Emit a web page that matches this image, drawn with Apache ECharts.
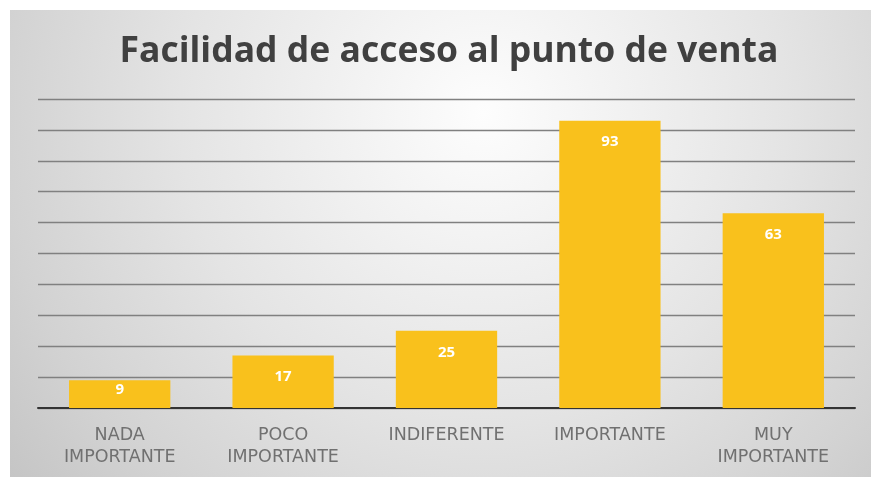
<!DOCTYPE html>
<html>
<head>
<meta charset="utf-8">
<title>Facilidad de acceso al punto de venta</title>
<script src="https://cdn.jsdelivr.net/npm/echarts@6/dist/echarts.min.js"></script>
<style>
  html, body { margin: 0; padding: 0; background: #ffffff; }
  #chart { width: 871px; height: 477px; }
</style>
</head>
<body>
<div id="chart"></div>
<script>
// Survey answers: how important is easy access to the point of sale
const categories = ['NADA\nIMPORTANTE', 'POCO\nIMPORTANTE', 'INDIFERENTE', 'IMPORTANTE', 'MUY\nIMPORTANTE'];
const counts = [9, 17, 25, 93, 63];
const yTicks = [0, 10, 20, 30, 40, 50, 60, 70, 80, 90, 100];

const chart = echarts.init(document.getElementById('chart'), null, { renderer: 'canvas' });

// short bars keep their value label close to the top edge
const barData = counts.map(v => ({
  value: v,
  label: v < 12 ? { distance: 2 } : {}
}));

chart.setOption({
  animation: false,
  backgroundColor: '#ffffff',
  graphic: [{
    type: 'rect',
    z: -10,
    silent: true,
    shape: { x: 10, y: 10, width: 861, height: 467 },
    style: {
      fill: {
        type: 'radial',
        x: 0.55, y: 0.22, r: 1.3,
        colorStops: [
          { offset: 0, color: '#fdfdfd' },
          { offset: 0.5, color: '#e4e4e4' },
          { offset: 0.8, color: '#d2d2d2' },
          { offset: 1, color: '#c4c4c4' }
        ]
      }
    }
  }],
  title: {
    text: 'Facilidad de acceso al punto de venta',
    left: 444,
    textAlign: 'center',
    top: 29,
    textStyle: {
      fontFamily: 'Open Sans',
      fontWeight: 'bold',
      fontSize: 35.5,
      color: '#404040'
    }
  },
  grid: { left: 38, right: 16, top: 99, bottom: 69 },
  xAxis: {
    type: 'category',
    data: categories,
    axisLine: { show: true, lineStyle: { color: '#333333', width: 2 } },
    axisTick: { show: false },
    axisLabel: {
      margin: 16,
      fontFamily: 'DejaVu Sans',
      fontSize: 17.5,
      lineHeight: 22,
      color: '#707070',
      interval: 0
    }
  },
  yAxis: {
    type: 'value',
    min: yTicks[0],
    max: yTicks[yTicks.length - 1],
    interval: yTicks[1] - yTicks[0],
    axisLabel: { show: false },
    axisLine: { show: false },
    axisTick: { show: false },
    splitLine: { show: true, lineStyle: { color: '#808080', width: 1.3 } }
  },
  series: [{
    type: 'bar',
    data: barData,
    barWidth: '62%',
    itemStyle: { color: '#F9C11C' },
    label: {
      show: true,
      position: 'insideTop',
      distance: 14,
      fontFamily: 'Open Sans',
      fontWeight: 'bold',
      fontSize: 15,
      color: '#ffffff'
    }
  }]
});
</script>
</body>
</html>
